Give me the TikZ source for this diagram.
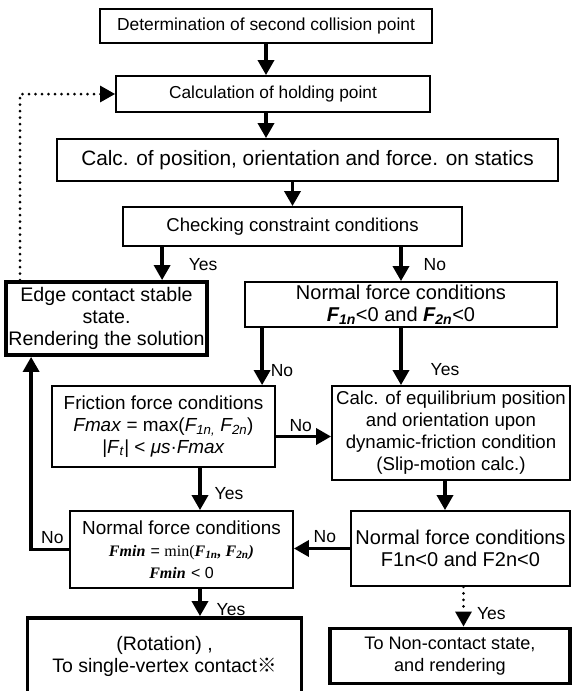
\documentclass[tikz,border=0pt]{standalone}
\usepackage{fontspec}
\setmainfont{Liberation Sans}
\newfontfamily\serifmath{Liberation Serif}
\newfontfamily\cjkmark{Noto Sans CJK JP}
\usetikzlibrary{arrows.meta}
\newcommand\fs[1]{\fontsize{#1}{22}\selectfont}

\begin{document}
\begin{tikzpicture}[x=1pt,y=-1pt,
    box/.style={draw,line width=1.8pt,align=center,inner sep=0pt},
    bigbox/.style={box,line width=3.8pt},
    arr/.style={line width=3.4pt,-{Triangle[length=15pt,width=16pt]}},
    dotarr/.style={arr,line width=3pt,line cap=round,dash pattern=on 0pt off 6.5pt},
    lbl/.style={inner sep=0pt,font=\fs{17.5}}]
  \useasboundingbox (0,0) rectangle (572,691);

  \node[box,minimum width=332pt,minimum height=34pt,font=\fs{17.4}] (b1) at (266,26) {Determination of second collision point};
  \node[box,minimum width=314pt,minimum height=36pt,font=\fs{17.3}] (b2) at (273,94) {Calculation of holding point};
  \node[box,minimum width=501pt,minimum height=42pt,font=\fs{20.8}] (b3) at (307.5,160) {Calc. of position, orientation and force. on statics};
  \node[box,minimum width=339pt,minimum height=39pt,font=\fs{18.6}] (b4) at (292.5,226.5) {Checking constraint conditions};
  \node[bigbox,minimum width=201pt,minimum height=73pt,font=\fs{19.6}] (edge) at (106.5,318.5) {Edge contact stable\\ state.\\ Rendering the solution};
  \node[box,minimum width=312pt,minimum height=45pt,font=\fs{20}] (n1) at (401,304.5)
    {Normal force conditions\\ {\bfseries\itshape F\textsubscript{1n}}<0 and {\bfseries\itshape F\textsubscript{2n}}<0};
  \node[box,minimum width=223pt,minimum height=81pt,font=\fs{18.9}] (fric) at (163.5,426.5)
    {Friction force conditions\\ \textit{Fmax} = max(\textit{F\textsubscript{1n,}} \textit{F\textsubscript{2n}})\\
     |\textit{F}\textsubscript{\textit{t}}| < \textit{μs}·\textit{Fmax}};
  \node[box,minimum width=238pt,minimum height=94pt,font=\fs{18.65}] (equil) at (451,433)
    {Calc. of equilibrium position\\ and orientation upon\\ dynamic-friction condition\\ (Slip-motion calc.)};
  \node[box,minimum width=223pt,minimum height=77pt,font=\fs{18.9}] (n2) at (181.5,549.5)
    {Normal force conditions\\
     {\fs{16}\serifmath\bfseries\itshape Fmin} {\fs{16}= \serifmath min(\bfseries\itshape F\textsubscript{1n}, F\textsubscript{2n}\/)}\\
     {\fs{16}\serifmath\bfseries\itshape Fmin}\ {\fs{16}< 0}};
  \node[box,minimum width=219pt,minimum height=75pt,font=\fs{20}] (n3) at (460.5,548.5)
    {Normal force conditions\\ F1n<0 and F2n<0};
  \node[bigbox,minimum width=274pt,minimum height=94pt,font=\fs{19.5}] (rot) at (164.5,665)
    {(Rotation) ,\\ To single-vertex contact{\cjkmark ※}\\ \mbox{}};
  \node[bigbox,minimum width=240pt,minimum height=55pt,font=\fs{18.1}] (noncont) at (450,656)
    {To Non-contact state,\\ and rendering};

  \draw[arr] (b1.south) -- (b1.south |- b2.north);
  \draw[arr] (b1.south |- b2.south) -- (b1.south |- b3.north);
  \draw[arr] (b4.north |- b3.south) -- (b4.north);
  \draw[arr] ([xshift=40pt]b4.south west) -- ([xshift=40pt]b4.south west |- edge.north)
    node[lbl,pos=0.53,anchor=west,xshift=25pt] {Yes};
  \draw[arr] (n1.north |- b4.south) -- (n1.north)
    node[lbl,pos=0.53,anchor=west,xshift=21pt] {No};
  \draw[dotarr] ([xshift=16pt]edge.north west) |- (b2.west);
  \draw[arr] ([xshift=18pt]n1.south west) -- ([xshift=18pt]n1.south west |- fric.north)
    node[lbl,pos=0.75,anchor=west,xshift=7pt] {No};
  \draw[arr] (n1.south) -- (n1.south |- equil.north)
    node[lbl,pos=0.73,anchor=west,xshift=28pt] {Yes};
  \draw[arr] ([yshift=-10pt]fric.east) -- ([yshift=-10pt]fric.east -| equil.west)
    node[lbl,pos=0.45,anchor=south,yshift=3pt] {No};
  \draw[arr] ([xshift=36.5pt]fric.south) -- ([xshift=36.5pt]fric.south |- n2.north)
    node[lbl,pos=0.6,anchor=west,xshift=13pt] {Yes};
  \draw[arr] ([xshift=-6pt]equil.south) -- ([xshift=-6pt]equil.south |- n3.north);
  \draw[arr] (n3.west) -- (n3.west -| n2.east)
    node[lbl,pos=0.45,anchor=south,yshift=4pt] {No};
  \draw[arr] (n2.west) -| ([xshift=27pt]edge.south west)
    node[lbl,pos=0.22,anchor=south,yshift=4pt] {No};
  \draw[arr] ([xshift=18.5pt]n2.south) -- ([xshift=18.5pt]n2.south |- rot.north)
    node[lbl,pos=0.75,anchor=west,xshift=15pt] {Yes};
  \draw[dotarr] ([xshift=3pt]n3.south) -- ([xshift=3pt]n3.south |- noncont.north)
    node[lbl,pos=0.67,anchor=west,xshift=12pt] {Yes};
\end{tikzpicture}
\end{document}
